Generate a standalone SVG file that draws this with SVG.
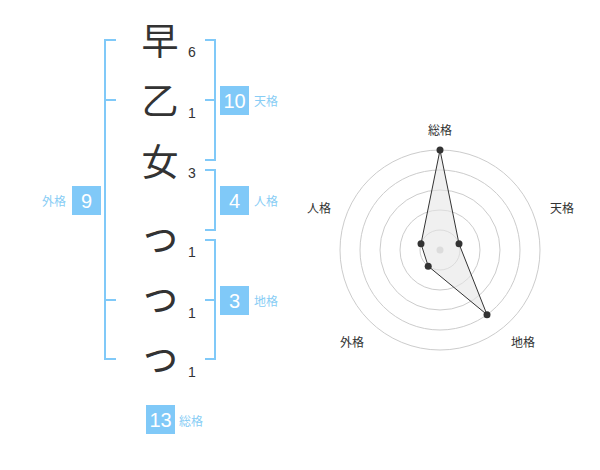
<svg xmlns="http://www.w3.org/2000/svg" width="600" height="470" viewBox="0 0 600 470">
<style>
.ch{font-family:"Noto Sans CJK JP","Noto Sans CJK SC",sans-serif;font-size:37px;fill:#333;text-anchor:middle}
.sm{font-size:42px}
.num{font-family:"Liberation Sans",Arial,sans-serif;font-size:14px;fill:#333}
.br{fill:none;stroke:#80c9f8;stroke-width:2}
.box{fill:#80c9f8}
.bt{font-family:"Liberation Sans",Arial,sans-serif;font-size:20px;fill:#fff;text-anchor:middle}
.lb{font-family:"Noto Sans CJK JP","Noto Sans CJK SC",sans-serif;font-size:12px;fill:#88cdf5}
.rl{font-family:"Noto Sans CJK JP","Noto Sans CJK SC",sans-serif;font-size:12px;fill:#333;text-anchor:middle}
.ring{fill:none;stroke:#ccc;stroke-width:1}
.dot{fill:#333}
</style>
<rect width="600" height="470" fill="#fff"/>
<g id="chars">
<g id="c1"><text class="ch" x="160" y="55">早</text><text class="num" x="188" y="57">6</text></g>
<g id="c2"><text class="ch" x="160" y="115">乙</text><text class="num" x="188" y="118">1</text></g>
<g id="c3"><text class="ch" x="160" y="176">女</text><text class="num" x="188" y="178">3</text></g>
<g id="c4"><text class="ch sm" x="160" y="251">っ</text><text class="num" x="188" y="257">1</text></g>
<g id="c5"><text class="ch sm" x="160" y="311">っ</text><text class="num" x="188" y="318">1</text></g>
<g id="c6"><text class="ch sm" x="160" y="371">っ</text><text class="num" x="188" y="377">1</text></g>
</g>
<g id="connectors">
<path class="br" d="M116,40H105V359H116M105,100H116M105,300H116"/>
<path class="br" d="M205,40H215V160H205M205,100H215"/>
<path class="br" d="M205,170H215V230H205"/>
<path class="br" d="M205,240H215V359H205M205,300H215"/>
</g>
<g id="tenkaku"><rect class="box" x="220" y="86" width="29" height="29"/><text class="bt" x="234.5" y="107.5">10</text><text class="lb" x="254" y="106">天格</text></g>
<g id="jinkaku"><rect class="box" x="220" y="186" width="29" height="29"/><text class="bt" x="234.5" y="207.5">4</text><text class="lb" x="254" y="206">人格</text></g>
<g id="chikaku"><rect class="box" x="220" y="286" width="29" height="29"/><text class="bt" x="234.5" y="307.5">3</text><text class="lb" x="254" y="306">地格</text></g>
<g id="gaikaku"><rect class="box" x="72" y="186" width="29" height="29"/><text class="bt" x="86.5" y="207.5">9</text><text class="lb" x="66" y="206" text-anchor="end">外格</text></g>
<g id="soukaku"><rect class="box" x="146" y="405" width="29" height="29"/><text class="bt" x="160.5" y="426.5">13</text><text class="lb" x="179" y="426">総格</text></g>
<g id="radar">
<circle class="ring" cx="440" cy="250" r="20"/>
<circle class="ring" cx="440" cy="250" r="40"/>
<circle class="ring" cx="440" cy="250" r="60"/>
<circle class="ring" cx="440" cy="250" r="80"/>
<circle class="ring" cx="440" cy="250" r="100"/>
<circle cx="440" cy="250" r="3.5" fill="#ccc"/>
<polygon points="440,150 459,243.8 487,314.7 428.2,266.2 421,243.8" fill="#e6e6e6" fill-opacity="0.6" stroke="#333" stroke-width="1"/>
<circle class="dot" cx="440" cy="150" r="3.5"/>
<circle class="dot" cx="459" cy="243.8" r="3.5"/>
<circle class="dot" cx="487" cy="314.7" r="3.5"/>
<circle class="dot" cx="428.2" cy="266.2" r="3.5"/>
<circle class="dot" cx="421" cy="243.8" r="3.5"/>
<text class="rl" x="440" y="135">総格</text>
<text class="rl" x="562" y="213">天格</text>
<text class="rl" x="523" y="347">地格</text>
<text class="rl" x="352" y="347">外格</text>
<text class="rl" x="319" y="213">人格</text>
</g>
</svg>
